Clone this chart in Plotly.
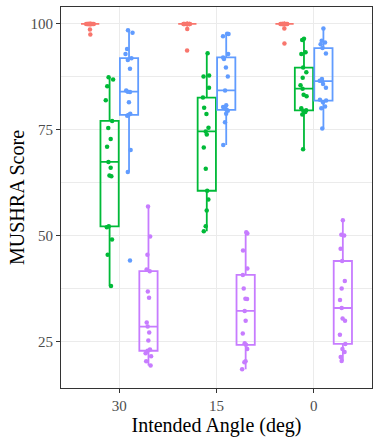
import plotly.graph_objects as go

categories = ["30", "15", "0"]

# MUSHRA scores per group, per intended angle (30, 15, 0)
red_30 = [100, 100, 100, 100, 100, 100, 100, 100, 100, 100, 100, 100, 100, 100, 100, 98.7, 97.5]
red_15 = [100, 100, 100, 100, 100, 100, 100, 100, 100, 100, 100, 100, 100, 100, 100, 98.8, 93.7]
red_0 = [100, 100, 100, 100, 100, 100, 100, 100, 100, 100, 100, 100, 100, 100, 100, 98.9, 95.4]

green_30 = [38.1, 45.5, 49.1, 52.0, 52.2, 64.0, 64.2, 66.0, 67.4, 71.0, 72.8, 75.4, 77.1, 82.0, 85.3, 86.9, 87.4]
green_15 = [51.0, 52.2, 55.9, 58.5, 60.6, 65.8, 70.8, 73.9, 74.6, 75.5, 78.7, 80.2, 82.6, 84.9, 87.6, 87.8, 93.1]
green_0 = [70.4, 78.6, 79.2, 79.4, 79.6, 80.1, 82.9, 83.3, 84.7, 85.5, 87.3, 88.6, 89.7, 92.9, 93.3, 96.2, 96.5]

blue_30 = [44.1, 65.0, 70.2, 78.3, 78.5, 78.8, 81.5, 83.9, 84.0, 84.3, 89.4, 91.5, 91.9, 92.9, 94.1, 97.9, 98.5]
blue_15 = [71.4, 76.8, 78.8, 79.5, 79.7, 80.0, 80.4, 80.8, 84.3, 87.6, 89.7, 91.7, 92.1, 92.9, 97.1, 97.6, 97.7]
blue_0 = [75.3, 80.1, 80.5, 81.5, 81.9, 82.1, 84.9, 85.8, 86.5, 86.6, 87.0, 93.0, 94.3, 95.2, 95.6, 96.0, 98.9]

purple_30 = [19.3, 20.3, 21.5, 22.2, 22.8, 23.1, 25.2, 27.1, 28.5, 29.5, 35.3, 36.8, 41.6, 42.0, 45.5, 49.8, 56.9]
purple_15 = [18.4, 20.1, 20.3, 23.2, 24.2, 24.6, 26.9, 29.9, 32.2, 35.0, 35.1, 37.5, 40.7, 42.2, 46.5, 50.5, 50.8]
purple_0 = [20.4, 21.3, 22.5, 23.2, 24.4, 26.6, 29.9, 30.4, 32.9, 34.8, 37.5, 39.3, 44.0, 46.9, 50.0, 50.2, 53.6]

groups = [
    ("red", "#F8766D", [red_30, red_15, red_0]),
    ("green", "#00BA38", [green_30, green_15, green_0]),
    ("blue", "#619CFF", [blue_30, blue_15, blue_0]),
    ("purple", "#C77CFF", [purple_30, purple_15, purple_0]),
]

y_ticks = [25, 50, 75, 100]
y_minor = [37.5, 62.5, 87.5]

SERIF = "Liberation Serif"

fig = go.Figure()
for name, color, series in groups:
    xs, ys = [], []
    for cat, vals in zip(categories, series):
        xs += [cat] * len(vals)
        ys += vals
    fig.add_trace(go.Box(
        x=xs, y=ys, name=name,
        boxpoints="all", jitter=0.45, pointpos=0,
        quartilemethod="inclusive",
        whiskerwidth=0,
        fillcolor="rgba(255,255,255,0)",
        line=dict(color=color, width=1.8),
        marker=dict(color=color, size=4.5),
        showlegend=False,
    ))

fig.update_layout(
    width=376, height=438,
    boxmode="group", boxgap=0.2, boxgroupgap=0.06,
    paper_bgcolor="white", plot_bgcolor="white",
    margin=dict(l=61, r=4, t=7, b=50, autoexpand=False),
    font=dict(family=SERIF, color="black"),
)
fig.update_xaxes(
    type="category", categoryorder="array", categoryarray=categories,
    range=[-0.6, 2.6], automargin=False,
    showgrid=True, gridcolor="#EBEBEB", gridwidth=1,
    ticks="outside", ticklen=4, tickwidth=1, tickcolor="#333333",
    tickfont=dict(size=15, color="#4D4D4D", family=SERIF),
    showline=True, mirror=True, linecolor="#333333", linewidth=1,
    zeroline=False,
    title=dict(text="Intended Angle (deg)", font=dict(size=20, color="black", family=SERIF), standoff=1),
)
fig.update_yaxes(
    range=[14.0, 104.0], automargin=False,
    tickvals=y_ticks, ticktext=[str(t) for t in y_ticks],
    showgrid=True, gridcolor="#EBEBEB", gridwidth=1,
    minor=dict(tickvals=y_minor, showgrid=True, gridcolor="#EBEBEB", gridwidth=0.5, ticks=""),
    ticks="outside", ticklen=4, tickwidth=1, tickcolor="#333333",
    tickfont=dict(size=15, color="#4D4D4D", family=SERIF),
    showline=True, mirror=True, linecolor="#333333", linewidth=1,
    zeroline=False,
    title=dict(text="MUSHRA Score", font=dict(size=20, color="black", family=SERIF), standoff=0),
)

fig.write_html("out.html", config={"displayModeBar": False})

# remove the default page margin so the figure sits at the window's top-left corner
with open("out.html", "r", encoding="utf-8") as f:
    html = f.read()
html = html.replace("<head>", "<head><style>html,body{margin:0;padding:0;overflow:hidden;}</style>", 1)
with open("out.html", "w", encoding="utf-8") as f:
    f.write(html)
